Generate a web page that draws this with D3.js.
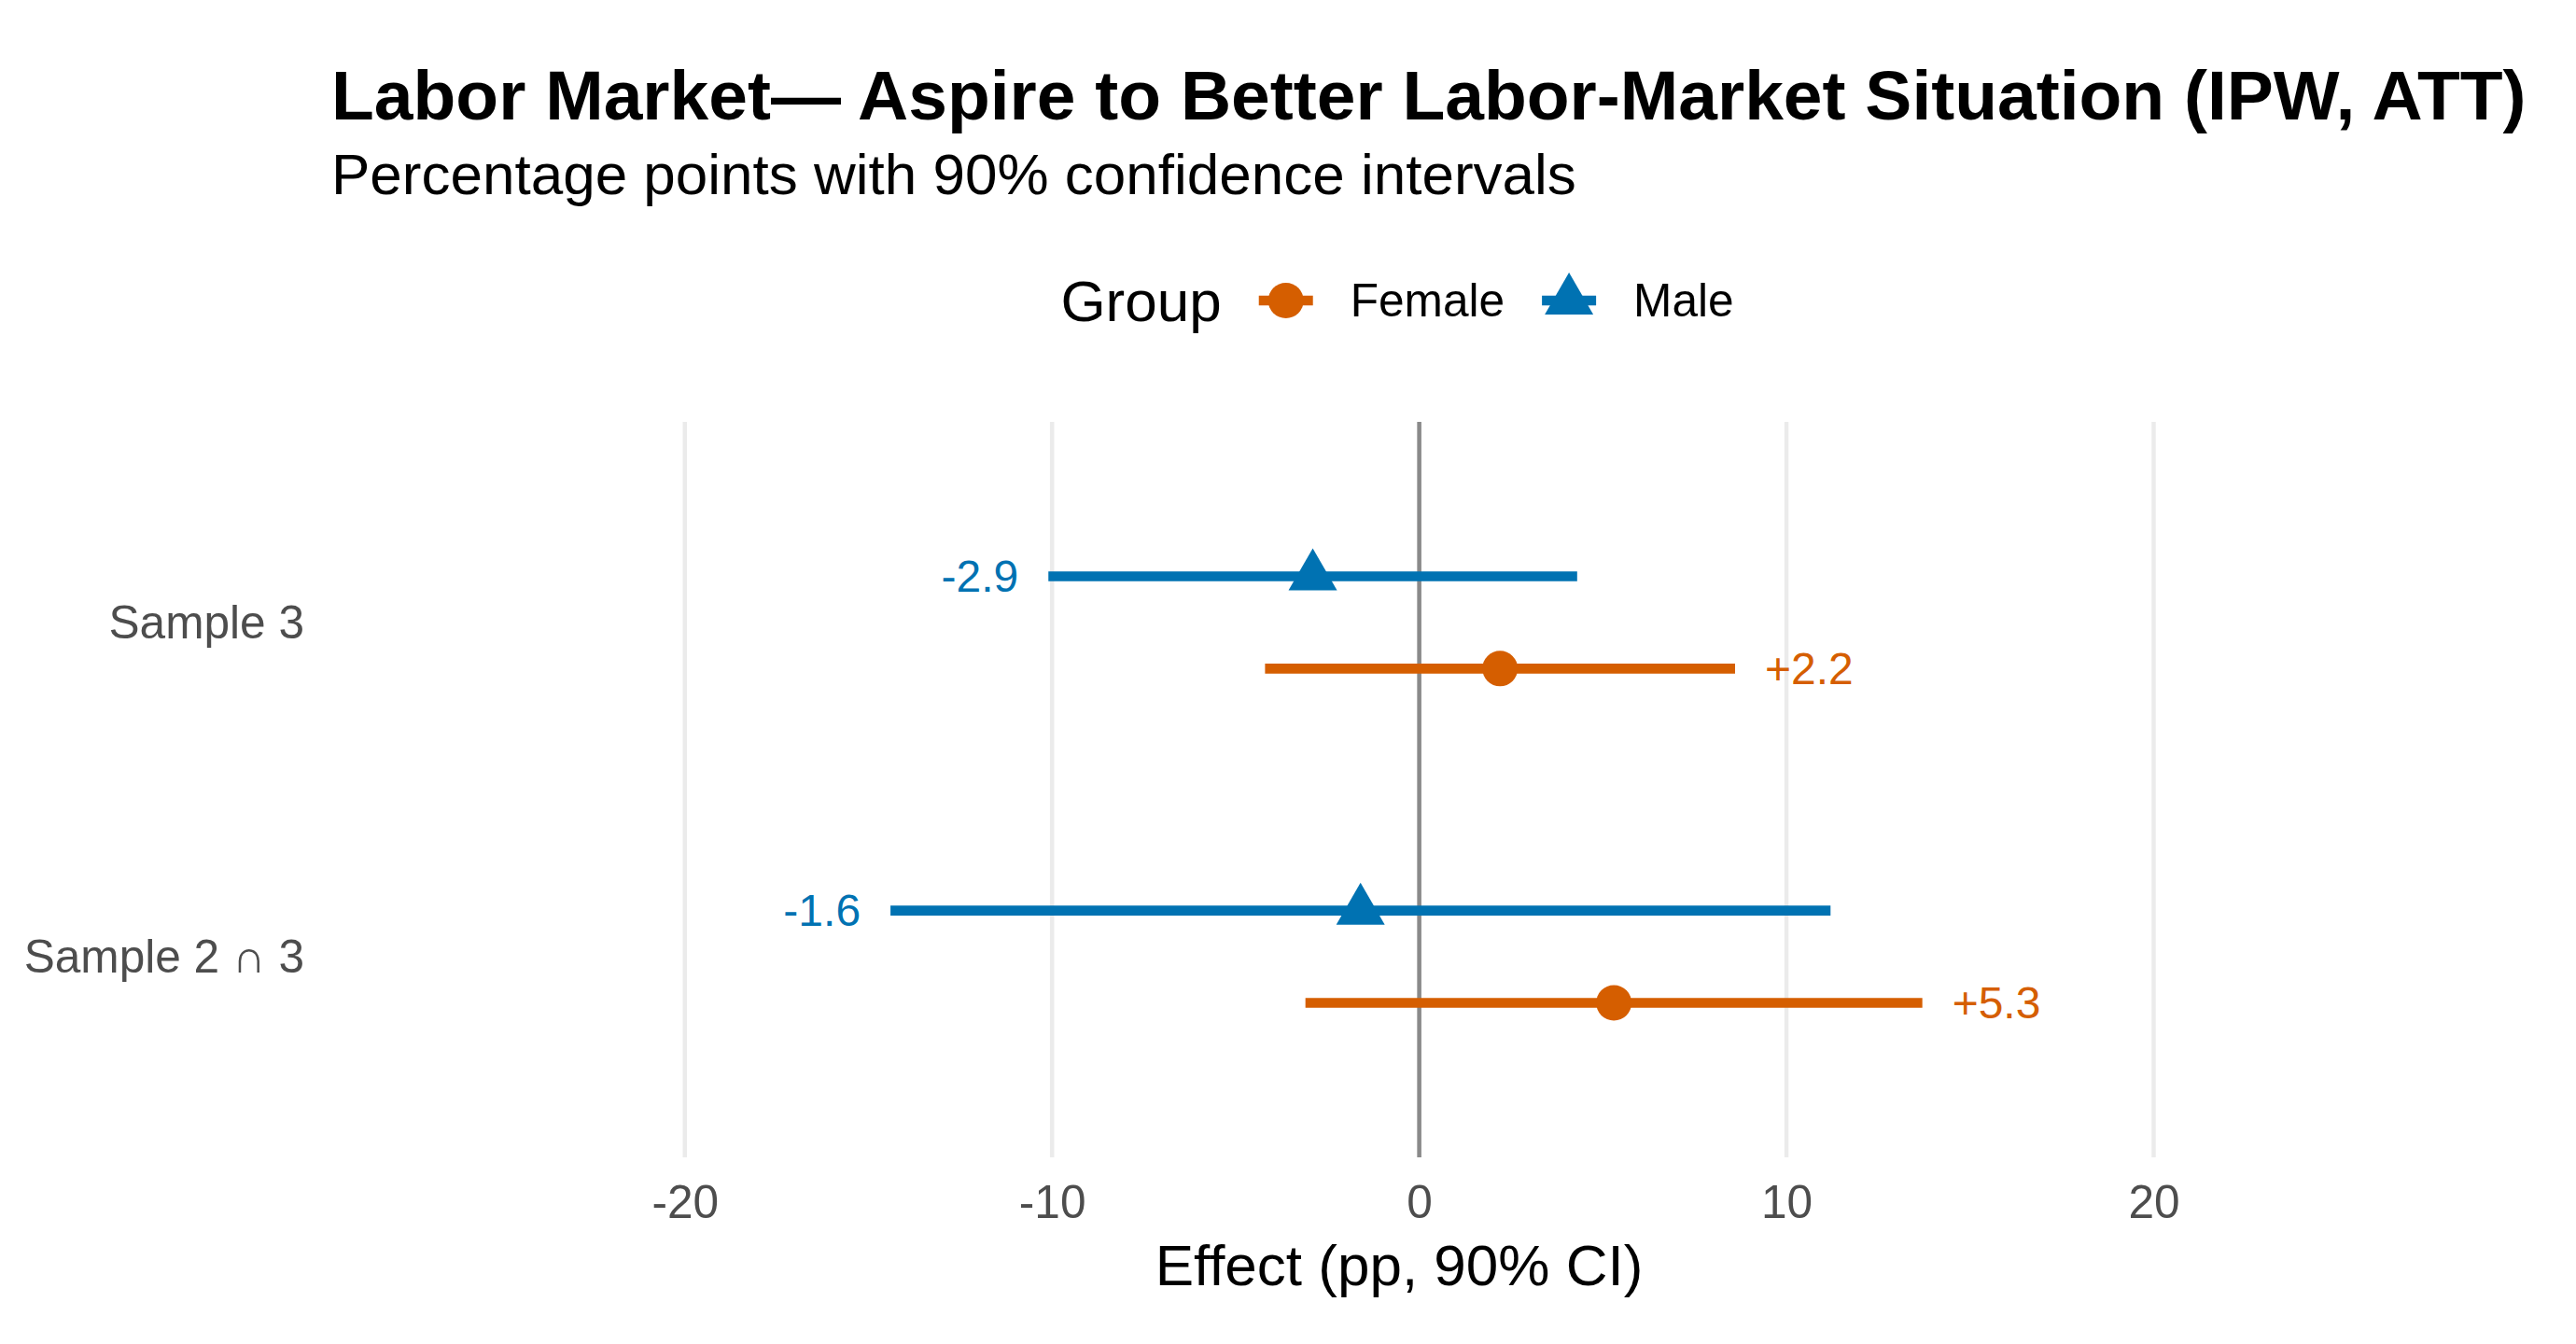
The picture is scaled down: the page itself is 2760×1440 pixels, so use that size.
<!DOCTYPE html>
<html>
<head>
<meta charset="utf-8">
<title>Labor Market — Aspire to Better Labor-Market Situation</title>
<script src="https://d3js.org/d3.v7.min.js"></script>
<style>
  body { margin: 0; background: #fff; }
  svg text { font-family: "Liberation Sans", Arial, Helvetica, sans-serif; }
</style>
</head>
<body>
<script>
// categories, top to bottom
var samples = ["Sample 3", "Sample 2 ∩ 3"];
var groups = ["Female", "Male"];
var groupColors = ["#D55E00", "#0072B2"];
var xTicks = [-20, -10, 0, 10, 20];

// point estimates and 90% CI bounds (pp), in sample order
var femaleEst = [2.2, 5.3];
var femaleLo = [-4.2, -3.1];
var femaleHi = [8.6, 13.7];
var maleEst = [-2.9, -1.6];
var maleLo = [-10.1, -14.4];
var maleHi = [4.3, 11.2];

var W = 2760, H = 1440;
var panel = {left: 360, right: 2638, top: 452, bottom: 1240};
var base = 62; // base font size in px

var rows = [];
samples.forEach(function(s, i) {
  rows.push({sample: s, group: "Female", est: femaleEst[i], lo: femaleLo[i], hi: femaleHi[i]});
  rows.push({sample: s, group: "Male", est: maleEst[i], lo: maleLo[i], hi: maleHi[i]});
});

var svg = d3.select("body").append("svg")
    .attr("width", W)
    .attr("height", H);

var x = d3.scaleLinear()
    .domain([-29.5, 28.4])
    .range([panel.left, panel.right]);

var y = d3.scalePoint()
    .domain(samples)
    .range([panel.top, panel.bottom])
    .padding(0.6);

var color = d3.scaleOrdinal().domain(groups).range(groupColors);

// dodge: male above, female below
var dodge = y.step() * 0.138;
function yPos(d) { return y(d.sample) + (d.group === "Male" ? -dodge : dodge); }

// R-style filled triangle (pch 17), s = symbol size
function triPath(s) {
  var r = 1.555 * s, yc = 0.778 * s, xc = 1.347 * s;
  return "M0," + (-r) + "L" + xc + "," + yc + "L" + (-xc) + "," + yc + "Z";
}
var ptRadius = 19;
var triSize = 19.3;
var ciWidth = 10.7;

function drawSymbol(sel, group) {
  if (group === "Male") {
    sel.append("path").attr("d", triPath(triSize)).attr("fill", color(group));
  } else {
    sel.append("circle").attr("r", ptRadius).attr("fill", color(group));
  }
}

// gridlines
svg.append("g").selectAll("line")
  .data(xTicks)
  .enter().append("line")
    .attr("x1", function(d) { return x(d); })
    .attr("x2", function(d) { return x(d); })
    .attr("y1", panel.top)
    .attr("y2", panel.bottom)
    .attr("stroke", "#ebebeb")
    .attr("stroke-width", 4.5);

// zero reference line
svg.append("line")
    .attr("x1", x(0)).attr("x2", x(0))
    .attr("y1", panel.top).attr("y2", panel.bottom)
    .attr("stroke", "#8a8a8a")
    .attr("stroke-width", 4.5);

// x axis
var xAxis = svg.append("g")
    .attr("transform", "translate(0," + panel.bottom + ")")
    .call(d3.axisBottom(x).tickValues(xTicks).tickSize(0).tickPadding(30)
      .tickFormat(function(d) { return String(d); }));
xAxis.select(".domain").remove();
xAxis.attr("font-family", null).attr("font-size", null);
xAxis.selectAll("text")
    .style("font-size", (base * 0.8) + "px")
    .attr("fill", "#4d4d4d");

// y labels
svg.append("g").selectAll("text")
  .data(samples)
  .enter().append("text")
    .attr("x", panel.left - 34)
    .attr("y", function(d) { return y(d); })
    .attr("dy", "0.35em")
    .attr("text-anchor", "end")
    .style("font-size", (base * 0.8) + "px")
    .attr("fill", "#4d4d4d")
    .text(function(d) { return d; });

// CI lines
svg.append("g").selectAll("line")
  .data(rows)
  .enter().append("line")
    .attr("x1", function(d) { return x(d.lo); })
    .attr("x2", function(d) { return x(d.hi); })
    .attr("y1", yPos)
    .attr("y2", yPos)
    .attr("stroke", function(d) { return color(d.group); })
    .attr("stroke-width", ciWidth);

// points
svg.append("g").selectAll("g")
  .data(rows)
  .enter().append("g")
    .attr("transform", function(d) { return "translate(" + x(d.est) + "," + yPos(d) + ")"; })
    .each(function(d) { drawSymbol(d3.select(this), d.group); });

// value labels
function fmt(v) { return (v > 0 ? "+" : "") + v.toFixed(1); }
svg.append("g").selectAll("text")
  .data(rows)
  .enter().append("text")
    .attr("x", function(d) { return d.est >= 0 ? x(d.hi) + 32 : x(d.lo) - 32; })
    .attr("y", yPos)
    .attr("dy", "0.35em")
    .attr("text-anchor", function(d) { return d.est >= 0 ? "start" : "end"; })
    .style("font-size", "48px")
    .attr("fill", function(d) { return color(d.group); })
    .text(function(d) { return fmt(d.est); });

// axis title
svg.append("text")
    .attr("x", (panel.left + panel.right) / 2)
    .attr("y", 1377)
    .attr("text-anchor", "middle")
    .style("font-size", base + "px")
    .text("Effect (pp, 90% CI)");

// title + subtitle
svg.append("text")
    .attr("x", panel.left - 5)
    .attr("y", 128)
    .style("font-size", "75px")
    .style("font-weight", "bold")
    .text("Labor Market— Aspire to Better Labor-Market Situation (IPW, ATT)");

svg.append("text")
    .attr("x", panel.left - 5)
    .attr("y", 208)
    .style("font-size", base + "px")
    .text("Percentage points with 90% confidence intervals");

// legend
var legend = svg.append("g");
var lx = 0, gap = 40, keyW = 58;
var lt = legend.append("text")
    .attr("x", 0)
    .attr("dy", "0.35em")
    .style("font-size", base + "px")
    .text("Group");
lx += lt.node().getComputedTextLength() + gap;

groups.forEach(function(g) {
  var key = legend.append("g").attr("transform", "translate(" + (lx + keyW / 2) + ",0)");
  key.append("line")
      .attr("x1", -keyW / 2).attr("x2", keyW / 2)
      .attr("stroke", color(g))
      .attr("stroke-width", ciWidth);
  drawSymbol(key, g);
  lx += keyW + gap;
  var t = legend.append("text")
      .attr("x", lx)
      .attr("dy", "0.35em")
      .style("font-size", (base * 0.8) + "px")
      .text(g);
  lx += t.node().getComputedTextLength() + gap;
});
lx -= gap;
legend.attr("transform", "translate(" + ((panel.left + panel.right) / 2 - lx / 2 - 2) + ",322)");
</script>
</body>
</html>
